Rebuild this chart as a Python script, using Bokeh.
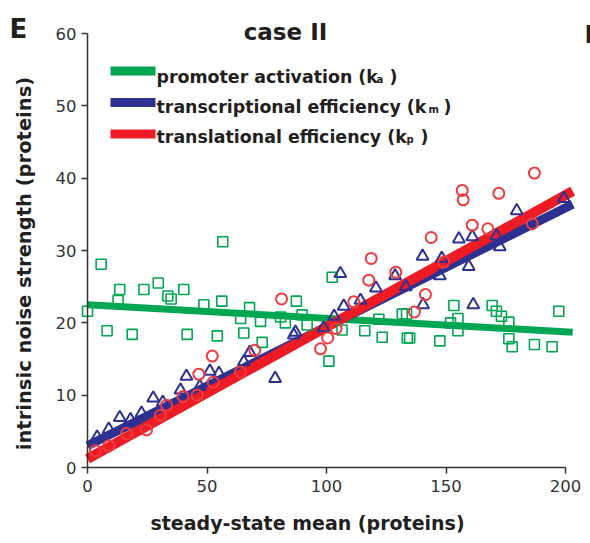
import math
from bokeh.plotting import figure
from bokeh.models import Range1d, Label, BoxAnnotation, FixedTicker
from bokeh.embed import file_html
from bokeh.resources import INLINE

# ---------------- data ----------------
x_ticks = [0, 50, 100, 150, 200]
y_ticks = [0, 10, 20, 30, 40, 50, 60]

# promoter activation (ka) - green squares
green_x = [0.0, 5.7, 8.2, 12.8, 13.5, 18.7, 23.6, 29.6, 33.6, 35.0, 40.3, 41.7, 48.7,
           54.3, 56.2, 56.6, 64.1, 65.4, 67.8, 72.4, 73.1, 80.8, 82.8, 87.4, 89.8, 91.9,
           101.0, 102.4, 106.5, 116.0, 121.9, 123.3, 131.7, 133.5, 133.8, 134.8, 147.4,
           151.9, 153.3, 155.0, 155.0, 169.3, 171.1, 173.2, 176.3, 176.3, 177.7, 187.0,
           194.4, 197.2]
green_y = [21.6, 28.1, 18.9, 23.1, 24.6, 18.4, 24.6, 25.5, 23.7, 23.3, 24.6, 18.4, 22.5,
           18.2, 23.0, 31.2, 20.6, 18.6, 22.1, 20.2, 17.3, 20.8, 20.0, 23.0, 21.1, 19.7,
           14.7, 26.3, 19.0, 18.9, 20.5, 18.0, 21.2, 21.2, 17.9, 17.9, 17.5,
           20.0, 22.4, 20.6, 18.9, 22.4, 21.6, 20.9, 20.1, 17.8, 16.7, 17.0,
           16.7, 21.6]

# transcriptional efficiency (km) - blue triangles
blue_x = [4.0, 8.9, 13.5, 18.0, 22.6, 27.5, 31.5, 38.9, 41.4, 47.0, 51.2, 55.0, 65.4, 67.9,
          78.5, 86.3, 87.0, 98.8, 103.2, 105.8, 107.2, 114.2, 120.7, 128.7, 133.2, 140.2,
          140.4, 147.4, 148.2, 155.4, 159.5, 161.0, 161.4, 171.1, 172.5, 179.6, 199.3]
blue_y = [4.2, 5.3, 6.9, 6.6, 7.5, 9.6, 9.0, 10.7, 12.6, 11.2, 13.3, 13.0, 14.6, 15.9,
          12.3, 18.3, 18.7, 19.3, 20.9, 26.8, 22.3, 23.1, 24.8, 26.5, 25.0, 29.2,
          22.5, 26.5, 28.9, 31.6, 27.8, 31.9, 22.5, 32.0, 30.5, 35.5, 37.2]

# translational efficiency (kp) - red circles
red_x = [3.3, 8.9, 16.3, 24.7, 30.5, 33.1, 40.0, 45.9, 46.6, 52.2, 52.6, 64.0, 70.0,
         81.2, 97.5, 100.5, 104.0, 111.4, 117.7, 118.7, 129.0, 136.8, 141.4, 143.8,
         149.1, 156.8, 157.2, 161.0, 167.5, 172.1, 186.1, 187.0]
red_y = [2.3, 3.0, 4.7, 5.2, 7.2, 8.6, 9.8, 10.0, 12.9, 15.4, 11.8, 13.2, 16.2,
         23.3, 16.4, 17.9, 19.2, 22.9, 25.9, 28.9, 27.0, 21.5, 23.9, 31.8,
         28.4, 38.3, 37.0, 33.5, 33.0, 37.9, 33.7, 40.7]

# fitted lines
fit_x = [0, 203]
green_fit = [22.5, 18.7]
blue_fit = [3.0, 36.4]
red_fit = [1.2, 38.2]

legend_labels = ["promoter activation (k", "transcriptional efficiency (k", "translational efficiency (k"]
legend_subs = ["a", "m", "p"]

# ---------------- style ----------------
GREEN = "#00a651"
BLUE = "#2e3192"
RED = "#ed1c24"
RED_M = "#ef3b3f"
TXT = "#231f20"
FONT = "DejaVu Sans"

W, H = 590, 543
# page pixel positions of the data extremes (x: 0 -> 87, 200 -> 565; y: 0 -> 467, 60 -> 33)
X0, X1, Y0, Y1 = 87, 565, 467, 33
xs = (X1 - X0) / 200.0
ys = (Y0 - Y1) / 60.0

# the frame fills the whole page; axes sit at data zero
p = figure(width=W, height=H, output_backend="svg", toolbar_location=None,
           x_range=Range1d(-X0 / xs, 200 + (W - X1) / xs),
           y_range=Range1d(-(H - Y0) / ys, 60 + Y1 / ys),
           min_border=0)
p.outline_line_color = None
p.grid.visible = False
p.background_fill_color = "white"
p.border_fill_color = "white"

for ax, ticks, bnd in ((p.xaxis, x_ticks, (0, 200)), (p.yaxis, y_ticks, (0, 60))):
    ax.fixed_location = 0
    ax.bounds = bnd
    ax.ticker = FixedTicker(ticks=ticks)
    ax.minor_tick_line_color = None
    ax.major_tick_in = 0
    ax.major_tick_out = 6
    ax.major_tick_line_width = 1.5
    ax.major_tick_line_color = "#333333"
    ax.axis_line_width = 1.5
    ax.axis_line_color = "#333333"
    ax.major_label_text_font = FONT
    ax.major_label_text_font_size = "16.5px"
    ax.major_label_text_color = "#333333"
p.xaxis.major_label_standoff = 6
p.yaxis.major_label_standoff = 5

# lines
p.line(fit_x, green_fit, line_width=7, line_color=GREEN)
p.line(fit_x, blue_fit, line_width=9, line_color=BLUE)
p.line(fit_x, red_fit, line_width=10, line_color=RED)

# markers
p.scatter(green_x, green_y, marker="square", size=10, fill_color=None,
          line_color=GREEN, line_width=1.6)
p.scatter(blue_x, blue_y, marker="triangle", size=12, fill_color=None,
          line_color=BLUE, line_width=2)
p.scatter(red_x, red_y, marker="circle", size=11, fill_color=None,
          line_color=RED_M, line_width=2)


# screen units are measured from the frame's bottom-left corner (= page bottom-left)
def sx(px):
    return px


def sy(py):
    return H - py


def lab(text, x, y, size, bold=True, align="left", angle=0.0, color=TXT):
    p.add_layout(Label(x=sx(x), y=sy(y), x_units="screen", y_units="screen", text=text,
                       text_font=FONT, text_font_size=size,
                       text_font_style="bold" if bold else "normal",
                       text_align=align, text_baseline="middle", angle=angle,
                       text_color=color))


# panel letters and title
lab("E", 9, 28, "26px")
lab("case II", 285, 31, "23px", align="center")
lab("F", 584, 34, "24px")

# legend
bar_rows = [(66, 75), (97.5, 106.5), (129, 138)]
text_rows = [76, 106, 136]
sub_x = [376, 428, 406]
close_x = [389, 443, 420]
for (t, b), ty, txt, sub, subx, cx, col in zip(bar_rows, text_rows, legend_labels, legend_subs,
                                              sub_x, close_x, [GREEN, BLUE, RED]):
    p.add_layout(BoxAnnotation(left=sx(110), right=sx(155), bottom=sy(b), top=sy(t),
                               left_units="screen", right_units="screen",
                               bottom_units="screen", top_units="screen",
                               fill_color=col, fill_alpha=1.0, line_color=None))
    lab(txt, 156, ty, "17.4px")
    lab(sub, subx, ty + 3, "10px")
    lab(")", cx, ty, "17.4px")

# axis titles
lab("steady-state mean (proteins)", 307, 522, "19px", align="center")
lab("intrinsic noise strength (proteins)", 24, 263, "19.5px", align="center", angle=math.pi / 2)

open("out.html", "w").write(file_html(p, INLINE))
